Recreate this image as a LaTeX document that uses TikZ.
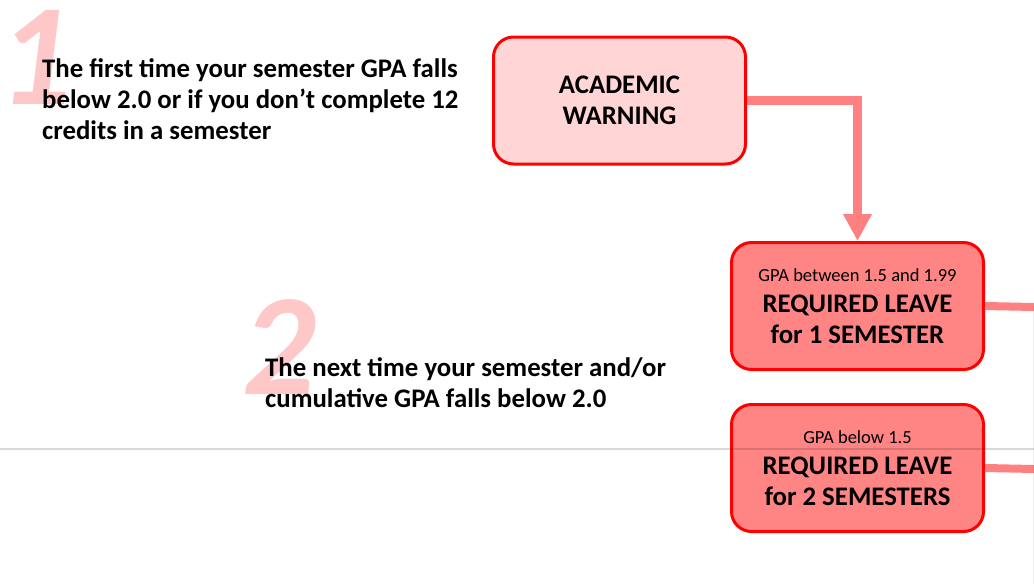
\documentclass[tikz,border=0pt]{standalone}
\usepackage{fontspec}
\setmainfont{Carlito}
\usepackage{tikz}
\usetikzlibrary{arrows.meta,positioning}

\definecolor{boxred}{RGB}{255,0,0}
\definecolor{warnfill}{RGB}{255,213,213}
\definecolor{leavefill}{RGB}{255,133,133}
\definecolor{flowpink}{RGB}{255,128,128}
\definecolor{numpink}{RGB}{255,200,200}

\begin{document}
\begin{tikzpicture}[
    x=1pt, y=-1pt,
    font=\bfseries\fontsize{26.8}{31}\selectfont,
    box/.style={
        draw=boxred,
        line width=3pt,
        rounded corners=20pt,
        align=center,
        minimum width=252pt,
        minimum height=127pt,
        inner sep=4pt
    },
    warnbox/.style={
        box,
        fill=warnfill
    },
    leavebox/.style={
        box,
        fill=leavefill
    },
    bignum/.style={
        text=numpink,
        font=\bfseries\itshape\fontsize{145}{145}\selectfont,
        inner sep=0pt,
        anchor=base west
    },
    note/.style={
        align=left,
        inner sep=0pt,
        anchor=north west
    },
    flow/.style={
        draw=flowpink,
        line width=8.5pt,
        -{Triangle[length=27pt,width=27pt]}
    },
    link/.style={
        draw=flowpink,
        line width=8pt
    }
]
\useasboundingbox (0,0) rectangle (1034,584);

% step numbers
\node[bignum] (one) at (-2,104) {1};
\node[bignum] (two) at (242,394) {2};

% conditions
\node[note] (cond1) at (42,58) {The first time your semester GPA falls\\
    below 2.0 or if you don’t complete 12\\
    credits in a semester};
\node[note] (cond2) at (265,357) {The next time your semester and/or\\
    cumulative GPA falls below 2.0};

% outcomes
\node[warnbox] (warn) at (619.5,100.5) {ACADEMIC\\WARNING};
\node[leavebox] (leave1) at (857.5,306) {%
    {\mdseries\fontsize{18.5}{20}\selectfont GPA between 1.5 and 1.99}\\
    REQUIRED LEAVE\\
    for 1 SEMESTER};
\node[leavebox, below=32pt of leave1] (leave2) {%
    {\mdseries\fontsize{18.5}{20}\selectfont GPA below 1.5}\\
    REQUIRED LEAVE\\
    for 2 SEMESTERS};

\coordinate (exit1) at (1034,307);
\coordinate (exit2) at (1034,469);

\draw[flow] (warn.east) -| (leave1.north);
\draw[link] (leave1.east) -- (exit1);
\draw[link] (leave2.east) -- (exit2);

% divider
\coordinate (rulel) at (0,449);
\coordinate (ruler) at (1034,449);
\draw[black, opacity=0.15, line width=2pt] (rulel) -- (ruler);
\coordinate (edget) at (1033,306);
\coordinate (edgeb) at (1033,584);
\draw[black, opacity=0.06, line width=1pt] (edget) -- (edgeb);

\end{tikzpicture}
\end{document}
